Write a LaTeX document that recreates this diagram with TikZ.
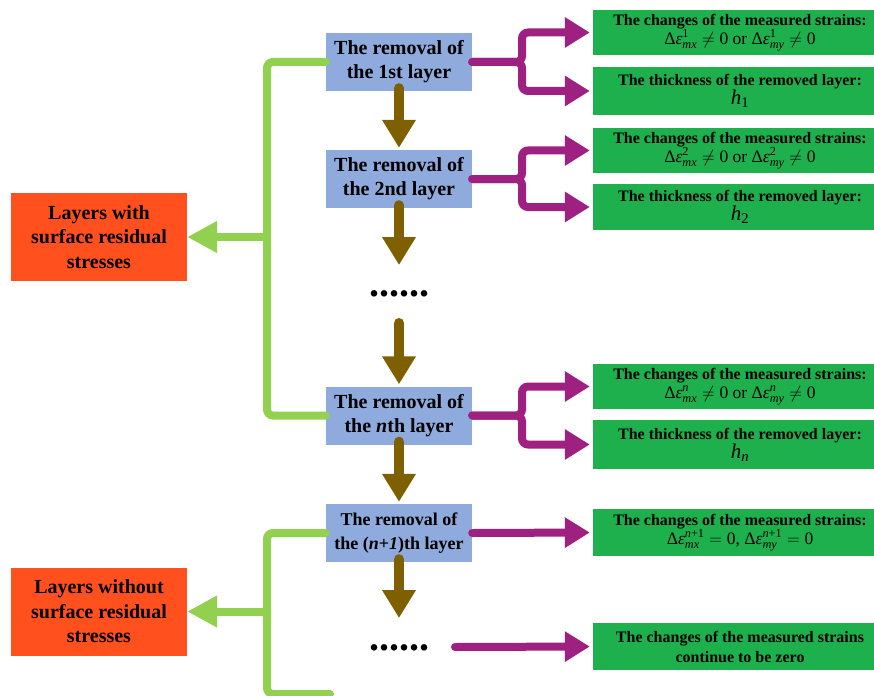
\documentclass[tikz,border=0pt]{standalone}
\usepackage{fix-cm}
\usepackage{amsmath}
\usepackage{fontspec}
\setmainfont{Liberation Serif}
\usetikzlibrary{arrows.meta,calc}
\definecolor{boxblue}{RGB}{143,170,220}
\definecolor{boxgreen}{RGB}{30,176,76}
\definecolor{boxred}{RGB}{255,80,30}
\definecolor{linegreen}{RGB}{146,208,80}
\definecolor{arrbrown}{RGB}{127,96,0}
\definecolor{arrpurple}{RGB}{158,32,128}
\newcommand{\meps}{\textup{Δ}\textit{ε}}
\newcommand{\mline}[1]{{\fontsize{17.5}{19}\selectfont #1}}
\begin{document}
\begin{tikzpicture}[x=1pt,y=-1pt,
  bluebox/.style={fill=boxblue, minimum width=146pt, minimum height=58pt, inner sep=0pt, align=center, font=\bfseries\fontsize{20}{24}\selectfont},
  redbox/.style={fill=boxred, minimum width=176pt, minimum height=88pt, inner sep=0pt, align=center, font=\bfseries\fontsize{20}{24.5}\selectfont},
  greenbox/.style={fill=boxgreen, minimum width=294pt, minimum height=46pt, inner sep=0pt, align=center, font=\fontsize{16}{19}\selectfont},
  dotstext/.style={font=\bfseries\fontsize{40}{40}\selectfont, inner sep=0pt, anchor=base},
  barrow/.style={draw=arrbrown, line width=10pt, line cap=round, -{Triangle[width=32pt,length=28pt]}},
  parrow/.style={draw=arrpurple, line width=8pt, line cap=round, rounded corners=6pt, -{Triangle[width=29pt,length=25pt]}},
  gline/.style={draw=linegreen, line width=8pt, line cap=round, rounded corners=6pt},
  garrow/.style={draw=linegreen, line width=8pt, -{Triangle[width=30pt,length=30pt]}}
]
\useasboundingbox (0,0) rectangle (874,695);
\clip (0,0) rectangle (874,695);

% blue boxes
\node[bluebox] (b1) at (399,62) {The removal of\\the 1st layer};
\node[bluebox] (b2) at (399,179) {The removal of\\the 2nd layer};
\node[bluebox] (bn) at (399,415.5) {The removal of\\the \textit{n}th layer};
\node[bluebox, font=\bfseries\fontsize{18}{24}\selectfont] (bn1) at (399,533) {The removal of\\the (\textit{n}+\textit{1})th layer};

% red boxes
\node[redbox] (r1) at (99,237) {Layers with\\surface residual\\stresses};
\node[redbox] (r2) at (99,611.5) {Layers without\\surface residual\\stresses};

% green boxes
\node[greenbox, minimum height=45pt] (g1a) at (740,32.5) {\textbf{The changes of the measured strains:}\\\mline{$\meps^{\textup{1}}_{\textit{mx}}\neq\textup{0}$ or $\meps^{\textup{1}}_{\textit{my}}\neq\textup{0}$}};
\node[greenbox, minimum height=48pt] (g1b) at (740,91) {\textbf{The thickness of the removed layer:}\\{\fontsize{21}{22}\selectfont$\textit{h}_{\textup{1}}$}};
\node[greenbox, minimum height=45pt] (g2a) at (740,150.5) {\textbf{The changes of the measured strains:}\\\mline{$\meps^{\textup{2}}_{\textit{mx}}\neq\textup{0}$ or $\meps^{\textup{2}}_{\textit{my}}\neq\textup{0}$}};
\node[greenbox, minimum height=46pt] (g2b) at (740,207) {\textbf{The thickness of the removed layer:}\\{\fontsize{21}{22}\selectfont$\textit{h}_{\textup{2}}$}};
\node[greenbox, minimum height=45pt] (gna) at (740,386.5) {\textbf{The changes of the measured strains:}\\\mline{$\meps^{\textit{n}}_{\textit{mx}}\neq\textup{0}$ or $\meps^{\textit{n}}_{\textit{my}}\neq\textup{0}$}};
\node[greenbox, minimum height=49pt] (gnb) at (740,444.5) {\textbf{The thickness of the removed layer:}\\{\fontsize{21}{22}\selectfont$\textit{h}_{\textit{n}}$}};
\node[greenbox, minimum height=47pt] (gn1) at (740,532.5) {\textbf{The changes of the measured strains:}\\\mline{$\meps^{\textit{n}\textup{+1}}_{\textit{mx}}=\textup{0}$, $\meps^{\textit{n}\textup{+1}}_{\textit{my}}=\textup{0}$}};
\node[greenbox, minimum height=47pt, font=\bfseries\fontsize{16}{20}\selectfont] (gl) at (740,646.5) {The changes of the measured strains\\continue to be zero};

% dots
\node[dotstext] (d1) at (399,296) {......};
\node[dotstext] (d2) at (399,650) {......};

% coordinates
\coordinate (f1) at (522,62);
\coordinate (f2) at (522,179);
\coordinate (fn) at (522,415.5);
\coordinate (bx) at (267,237);
\coordinate (bx2) at (267,611.5);
\coordinate (bend) at (330,694);
\coordinate (d1top) at (399,265);
\coordinate (d1bot) at (399,323);
\coordinate (d2top) at (399,618);
\coordinate (pstart) at (455,647);

% green brackets
\draw[gline] (b1.west) -| (bx) |- (bn.west);
\draw[garrow] (bx) -- (r1.east);
\draw[gline] (bn1.west) -| (bx2) |- (bend);
\draw[garrow] (bx2) -- (r2.east);

% brown arrows
\draw[barrow] ([yshift=3pt]b1.south) -- ([yshift=2pt]b2.north);
\draw[barrow] ([yshift=3pt]b2.south) -- (d1top);
\draw[barrow] (d1bot) -- ([yshift=2pt]bn.north);
\draw[barrow] ([yshift=3pt]bn.south) -- ([yshift=2pt]bn1.north);
\draw[barrow] ([yshift=3pt]bn1.south) -- (d2top);

% purple arrows
\draw[parrow, shorten >=3pt] (b1.east) -- (f1) |- (g1a.west);
\draw[parrow, shorten >=3pt] (b1.east) -- (f1) |- (g1b.west);
\draw[parrow, shorten >=3pt] (b2.east) -- (f2) |- (g2a.west);
\draw[parrow, shorten >=3pt] (b2.east) -- (f2) |- (g2b.west);
\draw[parrow, shorten >=3pt] (bn.east) -- (fn) |- (gna.west);
\draw[parrow, shorten >=3pt] (bn.east) -- (fn) |- (gnb.west);
\draw[parrow, shorten >=3pt] (bn1.east) -- (gn1.west);
\draw[parrow, shorten >=3pt] (pstart) -- (gl.west);
\end{tikzpicture}
\end{document}
